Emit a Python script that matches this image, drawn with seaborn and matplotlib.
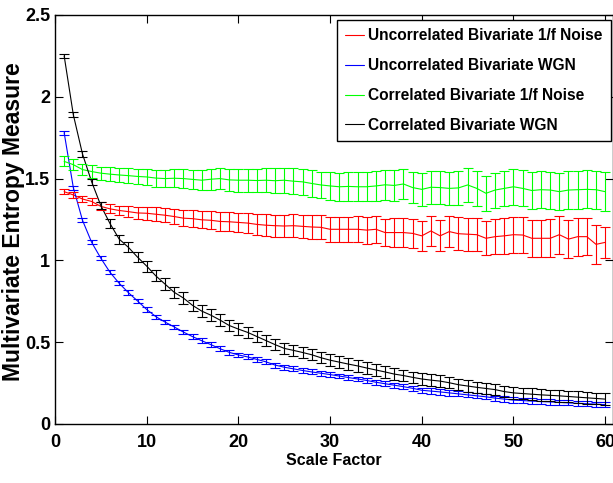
import numpy as np
import pandas as pd
import matplotlib
matplotlib.use('Agg')
import matplotlib.pyplot as plt
import seaborn as sns

# scale factors 1..60
scale = list(range(1, 61))

series_names = ['Uncorrelated Bivariate 1/f Noise', 'Uncorrelated Bivariate WGN',
                'Correlated Bivariate 1/f Noise', 'Correlated Bivariate WGN']
series_colors = ['#ff0000', '#0000ff', '#00ff00', '#000000']

# mean values
unc_1f = [1.42, 1.40, 1.375, 1.36, 1.33, 1.315, 1.305, 1.298, 1.29, 1.288,
          1.282, 1.276, 1.268, 1.258, 1.255, 1.248, 1.245, 1.238, 1.236, 1.232,
          1.228, 1.22, 1.215, 1.212, 1.21, 1.212, 1.208, 1.204, 1.202, 1.19,
          1.19, 1.19, 1.19, 1.185, 1.19, 1.17, 1.17, 1.17, 1.165, 1.15,
          1.18, 1.15, 1.176, 1.163, 1.16, 1.157, 1.135, 1.145, 1.15, 1.157,
          1.155, 1.135, 1.135, 1.135, 1.157, 1.13, 1.145, 1.145, 1.098, 1.11]
unc_wgn = [1.78, 1.445, 1.245, 1.11, 1.013, 0.927, 0.86, 0.803, 0.752, 0.70,
           0.656, 0.623, 0.593, 0.562, 0.534, 0.509, 0.485, 0.46, 0.438, 0.422,
           0.41, 0.395, 0.38, 0.36, 0.347, 0.337, 0.327, 0.318, 0.31, 0.302,
           0.293, 0.284, 0.275, 0.266, 0.255, 0.246, 0.237, 0.228, 0.218, 0.206,
           0.201, 0.196, 0.19, 0.184, 0.178, 0.172, 0.166, 0.158, 0.152, 0.146,
           0.143, 0.14, 0.137, 0.135, 0.132, 0.129, 0.126, 0.124, 0.121, 0.118]
cor_1f = [1.605, 1.585, 1.555, 1.543, 1.533, 1.527, 1.522, 1.518, 1.513, 1.51,
          1.503, 1.50, 1.502, 1.50, 1.495, 1.49, 1.496, 1.50, 1.492, 1.49,
          1.49, 1.488, 1.49, 1.487, 1.49, 1.484, 1.48, 1.47, 1.461, 1.455,
          1.45, 1.452, 1.45, 1.45, 1.455, 1.462, 1.458, 1.467, 1.445, 1.434,
          1.447, 1.445, 1.44, 1.443, 1.461, 1.44, 1.41, 1.43, 1.44, 1.45,
          1.44, 1.427, 1.432, 1.43, 1.42, 1.43, 1.432, 1.434, 1.432, 1.42]
cor_wgn = [2.25, 1.89, 1.65, 1.48, 1.335, 1.225, 1.13, 1.08, 1.02, 0.965,
           0.905, 0.855, 0.805, 0.77, 0.725, 0.69, 0.665, 0.635, 0.602, 0.58,
           0.56, 0.535, 0.51, 0.485, 0.462, 0.45, 0.437, 0.423, 0.405, 0.39,
           0.378, 0.366, 0.355, 0.342, 0.33, 0.318, 0.305, 0.296, 0.285, 0.275,
           0.268, 0.262, 0.252, 0.24, 0.232, 0.224, 0.217, 0.21, 0.198, 0.19,
           0.186, 0.182, 0.178, 0.175, 0.172, 0.168, 0.164, 0.16, 0.156, 0.152]

# half lengths of the error bars
unc_1f_err = [0.015, 0.018, 0.02, 0.022, 0.025, 0.028, 0.03, 0.033, 0.036, 0.04,
              0.042, 0.044, 0.046, 0.048, 0.05, 0.052, 0.054, 0.056, 0.058, 0.06,
              0.062, 0.064, 0.066, 0.067, 0.068, 0.07, 0.071, 0.072, 0.074, 0.075,
              0.076, 0.078, 0.08, 0.082, 0.083, 0.085, 0.086, 0.088, 0.09, 0.09,
              0.092, 0.095, 0.097, 0.1, 0.1, 0.102, 0.105, 0.106, 0.108, 0.11,
              0.11, 0.112, 0.114, 0.115, 0.116, 0.117, 0.116, 0.115, 0.118, 0.096]
unc_wgn_err = [0.012, 0.012, 0.012, 0.012, 0.012, 0.012, 0.012, 0.013, 0.013, 0.013,
               0.013, 0.013, 0.013, 0.014, 0.014, 0.014, 0.014, 0.014, 0.014, 0.014,
               0.015, 0.015, 0.015, 0.015, 0.015, 0.015, 0.015, 0.015, 0.015, 0.015,
               0.015, 0.015, 0.015, 0.015, 0.015, 0.015, 0.015, 0.015, 0.015, 0.015,
               0.016, 0.016, 0.016, 0.016, 0.016, 0.016, 0.016, 0.016, 0.016, 0.016,
               0.016, 0.016, 0.016, 0.016, 0.016, 0.016, 0.016, 0.016, 0.016, 0.016]
cor_1f_err = [0.03, 0.032, 0.035, 0.037, 0.04, 0.042, 0.044, 0.046, 0.048, 0.05,
              0.052, 0.054, 0.056, 0.058, 0.06, 0.062, 0.064, 0.066, 0.068, 0.07,
              0.071, 0.072, 0.074, 0.075, 0.076, 0.078, 0.079, 0.08, 0.082, 0.085,
              0.086, 0.087, 0.088, 0.09, 0.09, 0.092, 0.093, 0.094, 0.096, 0.1,
              0.1, 0.101, 0.102, 0.103, 0.104, 0.105, 0.106, 0.107, 0.108, 0.11,
              0.11, 0.111, 0.112, 0.113, 0.114, 0.115, 0.115, 0.116, 0.117, 0.118]
cor_wgn_err = [0.012, 0.015, 0.018, 0.02, 0.022, 0.025, 0.028, 0.03, 0.032, 0.033,
               0.034, 0.035, 0.035, 0.035, 0.035, 0.035, 0.035, 0.035, 0.035, 0.035,
               0.035, 0.035, 0.035, 0.035, 0.035, 0.035, 0.035, 0.035, 0.035, 0.035,
               0.035, 0.035, 0.035, 0.035, 0.035, 0.035, 0.035, 0.035, 0.035, 0.035,
               0.035, 0.035, 0.035, 0.035, 0.035, 0.035, 0.035, 0.035, 0.035, 0.035,
               0.035, 0.035, 0.035, 0.035, 0.035, 0.035, 0.035, 0.035, 0.035, 0.035]

x_ticks = [0, 10, 20, 30, 40, 50, 60]
y_ticks = [0, 0.5, 1, 1.5, 2, 2.5]
y_tick_labels = ['0', '0.5', '1', '1.5', '2', '2.5']

means = [unc_1f, unc_wgn, cor_1f, cor_wgn]
errs = [unc_1f_err, unc_wgn_err, cor_1f_err, cor_wgn_err]

df = pd.concat([pd.DataFrame({'Scale Factor': scale, 'value': m, 'err': e, 'series': n})
                for m, e, n in zip(means, errs, series_names)], ignore_index=True)

sns.set_style('ticks', {'xtick.direction': 'in', 'ytick.direction': 'in'})
fonts = ['Liberation Sans', 'DejaVu Sans']
plt.rcParams['font.family'] = fonts
for k in ['text.color', 'axes.labelcolor', 'xtick.color', 'ytick.color', 'axes.edgecolor']:
    plt.rcParams[k] = 'black'

fig = plt.figure(figsize=(6.13, 4.83), dpi=100)
ax = fig.add_axes([0.0897, 0.1222, 0.9095, 0.8468])

palette = dict(zip(series_names, series_colors))
sns.lineplot(data=df, x='Scale Factor', y='value', hue='series', hue_order=series_names,
             palette=palette, lw=0.8, ax=ax)
for name in series_names:
    d = df[df['series'] == name]
    ax.errorbar(d['Scale Factor'], d['value'], yerr=d['err'], fmt='none',
                ecolor=palette[name], elinewidth=0.8, capsize=3.5, capthick=0.8)

ax.set_xlim(0, 60.8)
ax.set_ylim(0, 2.5)
ax.set_xticks(x_ticks)
ax.set_yticks(y_ticks)
ax.set_yticklabels(y_tick_labels)
ax.tick_params(top=True, right=True, length=6, width=0.8, labelsize=13)
ax.tick_params(axis='y', pad=3.5)
ax.tick_params(axis='x', pad=7)
for lab in ax.get_xticklabels() + ax.get_yticklabels():
    lab.set_fontweight('bold')
for sp in ax.spines.values():
    sp.set_linewidth(1.0)

ax.set_xlabel('Scale Factor', fontsize=11.5, fontweight='bold')
ax.set_ylabel('Multivariate Entropy Measure', fontsize=16.5, fontweight='bold')
ax.xaxis.set_label_coords(0.5, -0.072)
ax.yaxis.set_label_coords(-0.054, 0.495)

leg = ax.legend(loc='upper right', bbox_to_anchor=(0.997, 0.988), borderaxespad=0,
                frameon=True, fancybox=False, edgecolor='black', framealpha=1,
                prop={'size': 11.2}, handlelength=1.2, handletextpad=0.25,
                labelspacing=0.95, borderpad=0.55)
leg.get_frame().set_linewidth(1.0)
for t in leg.get_texts():
    t.set_fontweight('bold')
for line in leg.get_lines():
    line.set_linewidth(0.8)

fig.savefig('out.png', dpi=100)
